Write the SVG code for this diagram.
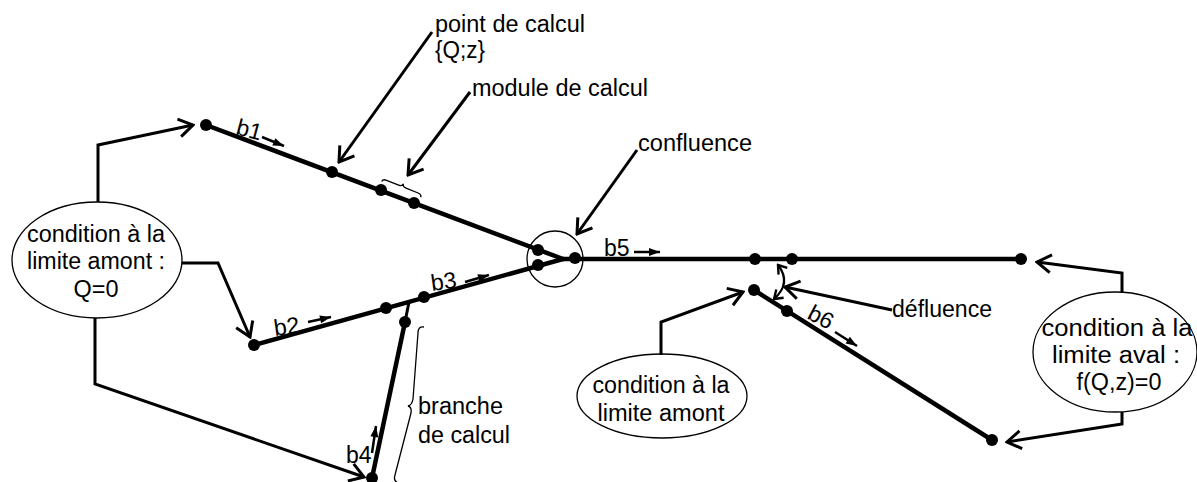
<svg xmlns="http://www.w3.org/2000/svg" width="1197" height="482" viewBox="0 0 1197 482">
<style>
text{font-family:"Liberation Sans",Arial,sans-serif;font-size:23px;fill:#000}
.br{stroke:#000;stroke-width:4.5;fill:none;stroke-linecap:round}
.con{stroke:#000;stroke-width:3;fill:none}
.thin{stroke:#000;stroke-width:1.3;fill:none}
.sa{stroke:#000;stroke-width:2.5;fill:none}
.el{fill:#fff;stroke:#000;stroke-width:1.3}
</style>
<defs>
<marker id="open" viewBox="-17 -11 19 22" refX="0" refY="0" markerWidth="19" markerHeight="22" markerUnits="userSpaceOnUse" orient="auto">
<path d="M-14,-9 L0,0 L-14,9" fill="none" stroke="#000" stroke-width="3"/>
</marker>
<marker id="small" viewBox="-12 -5 13 10" refX="0" refY="0" markerWidth="13" markerHeight="10" markerUnits="userSpaceOnUse" orient="auto">
<path d="M-11,-4 L0,0 L-11,4 z" fill="#000"/>
</marker>
<marker id="dbl" viewBox="-10 -7 12 14" refX="0" refY="0" markerWidth="12" markerHeight="14" markerUnits="userSpaceOnUse" orient="auto-start-reverse">
<path d="M-8,-5.5 L0,0 L-8,5.5" fill="none" stroke="#000" stroke-width="2.4"/>
</marker>
<circle id="dot" r="6" fill="#000"/>
</defs>

<g id="branches">
<line class="br" x1="206" y1="125" x2="563" y2="259"/>
<line class="br" x1="254" y1="345" x2="563" y2="259"/>
<line class="br" x1="563" y1="259" x2="1021" y2="259"/>
<line class="br" x1="372" y1="478" x2="405" y2="322"/>
<line class="con" x1="405" y1="322" x2="409" y2="302"/>
<line class="br" x1="754" y1="290" x2="992" y2="440"/>
</g>

<g id="points">
<use href="#dot" x="206" y="125"/>
<use href="#dot" x="332" y="172"/>
<use href="#dot" x="381" y="190"/>
<use href="#dot" x="414" y="203"/>
<use href="#dot" x="538" y="250"/>
<use href="#dot" x="538" y="265"/>
<use href="#dot" x="575" y="258"/>
<use href="#dot" x="254" y="345"/>
<use href="#dot" x="386" y="308"/>
<use href="#dot" x="424" y="297"/>
<use href="#dot" x="405" y="322"/>
<use href="#dot" x="372" y="478"/>
<use href="#dot" x="755" y="259"/>
<use href="#dot" x="792" y="259"/>
<use href="#dot" x="1021" y="259"/>
<use href="#dot" x="754" y="290"/>
<use href="#dot" x="787" y="311"/>
<use href="#dot" x="992" y="440"/>
</g>

<g id="branch-labels">
<text transform="translate(235,134) rotate(15)">b1</text>
<line class="sa" x1="262" y1="137" x2="284" y2="146" marker-end="url(#small)"/>
<text transform="translate(275,336) rotate(-8)">b2</text>
<line class="sa" x1="308" y1="322" x2="331" y2="317" marker-end="url(#small)"/>
<text transform="translate(432,291) rotate(-8)">b3</text>
<line class="sa" x1="465" y1="282" x2="489" y2="275" marker-end="url(#small)"/>
<text x="346" y="463">b4</text>
<line class="sa" x1="372" y1="453" x2="376" y2="426" marker-end="url(#small)"/>
<text x="604" y="256">b5</text>
<line class="sa" x1="634" y1="252" x2="660" y2="252" marker-end="url(#small)"/>
<text transform="translate(806,318) rotate(28)">b6</text>
<line class="sa" x1="835" y1="332" x2="857" y2="346" marker-end="url(#small)"/>
</g>

<g id="confluence">
<circle class="thin" cx="555" cy="259" r="28"/>
<text x="638" y="151" textLength="114" lengthAdjust="spacingAndGlyphs">confluence</text>
</g>

<g id="point-calcul">
<text x="435" y="32" textLength="150" lengthAdjust="spacingAndGlyphs">point de calcul</text>
<text x="435" y="58" textLength="50" lengthAdjust="spacingAndGlyphs">{Q;z}</text>
</g>

<g id="module-calcul">
<path class="thin" d="M0,6 Q0,3 4,3 L17,3 Q21,3 21,0 Q21,3 25,3 L38,3 Q42,3 42,6" transform="translate(384,176) rotate(22)"/>
<text x="472" y="96" textLength="176" lengthAdjust="spacingAndGlyphs">module de calcul</text>
</g>

<g id="branche-calcul">
<path class="thin" d="M424,327 Q418,326 418,333 L413,399 Q412,405 408,406 Q412,407 411,413 L395,475 Q393,481 398,483"/>
<text x="418" y="414" textLength="85" lengthAdjust="spacingAndGlyphs">branche</text>
<text x="418" y="443" textLength="92" lengthAdjust="spacingAndGlyphs">de calcul</text>
</g>

<g id="defluence">
<text x="892" y="317" textLength="100" lengthAdjust="spacingAndGlyphs">défluence</text>
</g>

<g id="cl-amont-q0">
<ellipse class="el" cx="97" cy="260" rx="85" ry="58"/>
<text x="96" y="242" text-anchor="middle" textLength="138" lengthAdjust="spacingAndGlyphs">condition à la</text>
<text x="96" y="269" text-anchor="middle" textLength="138" lengthAdjust="spacingAndGlyphs">limite amont :</text>
<text x="96" y="297" text-anchor="middle" textLength="45" lengthAdjust="spacingAndGlyphs">Q=0</text>
</g>

<g id="cl-amont">
<ellipse class="el" cx="662" cy="396" rx="85" ry="42"/>
<text x="661" y="393" text-anchor="middle" textLength="137" lengthAdjust="spacingAndGlyphs">condition à la</text>
<text x="661" y="421" text-anchor="middle" textLength="127" lengthAdjust="spacingAndGlyphs">limite amont</text>
</g>

<g id="cl-aval">
<ellipse class="el" cx="1115" cy="352" rx="82" ry="60"/>
<text x="1117" y="336" text-anchor="middle" textLength="151" lengthAdjust="spacingAndGlyphs">condition à la</text>
<text x="1116" y="363" text-anchor="middle" textLength="128" lengthAdjust="spacingAndGlyphs">limite aval :</text>
<text x="1119" y="390" text-anchor="middle" textLength="85" lengthAdjust="spacingAndGlyphs">f(Q,z)=0</text>
</g>

<g id="connectors">
<polyline class="con" points="98,202 98,145 193,125" marker-end="url(#open)"/>
<polyline class="con" points="182,263 218,263 250,337" marker-end="url(#open)"/>
<polyline class="con" points="95,318 95,384 364,477" marker-end="url(#open)"/>
<polyline class="con" points="661,355 661,322 743,292" marker-end="url(#open)"/>
<polyline class="con" points="1122,293 1122,273 1037,262" marker-end="url(#open)"/>
<polyline class="con" points="1122,412 1122,424 1007,442" marker-end="url(#open)"/>
<line class="con" x1="432" y1="32" x2="339" y2="162" marker-end="url(#open)"/>
<line class="con" x1="470" y1="92" x2="408" y2="175" marker-end="url(#open)"/>
<line class="con" x1="637" y1="150" x2="577" y2="234" marker-end="url(#open)"/>
<line class="con" x1="892" y1="310" x2="785" y2="287" marker-end="url(#open)"/>
<path d="M778,265 Q792,283 774,299" fill="none" stroke="#000" stroke-width="2.2" marker-start="url(#dbl)" marker-end="url(#dbl)"/>
</g>
</svg>
